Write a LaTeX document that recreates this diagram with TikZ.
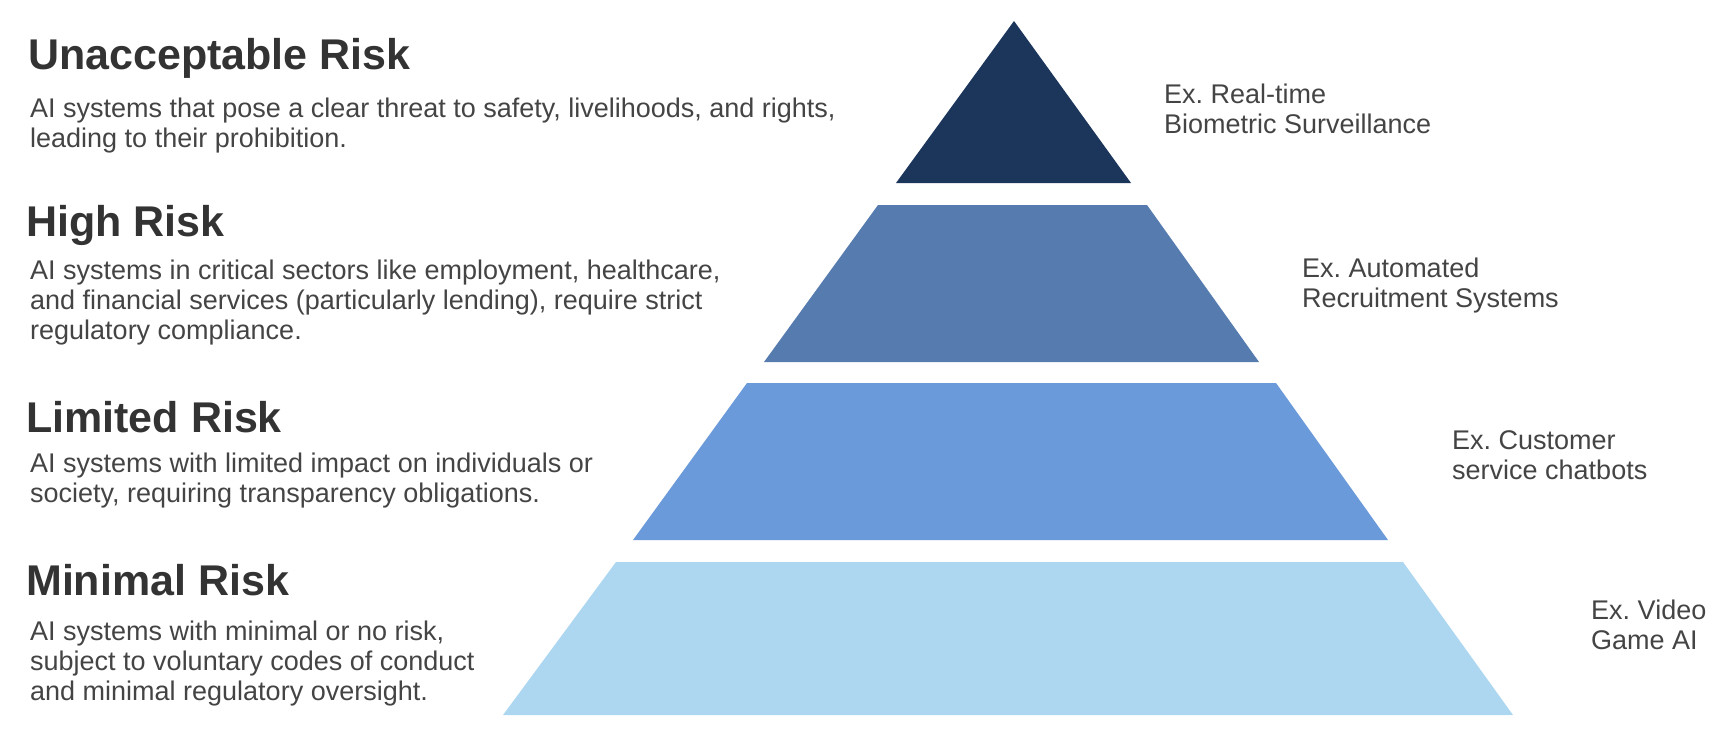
\documentclass[tikz,border=0pt]{standalone}
\usepackage{fontspec}
\setmainfont{Liberation Sans}
\frenchspacing
\definecolor{tierUnacc}{HTML}{1B355B}
\definecolor{tierHigh}{HTML}{567BAF}
\definecolor{tierLimited}{HTML}{6A9ADA}
\definecolor{tierMinimal}{HTML}{ADD6F0}
\definecolor{titlegray}{HTML}{333333}
\definecolor{textgray}{HTML}{444444}

\begin{document}
\begin{tikzpicture}[x=1pt, y=-1pt,
  risktitle/.style={anchor=base west, inner sep=0pt, text=titlegray,
    font=\fontsize{43}{48}\selectfont\bfseries},
  riskdesc/.style={anchor=north west, inner sep=0pt, align=left, text=textgray,
    font=\fontsize{27}{30}\selectfont},
  example/.style={anchor=north west, inner sep=0pt, align=left, text=textgray,
    font=\fontsize{27}{30}\selectfont}]
  \useasboundingbox (0,0) rectangle (1736,752);

  % Pyramid
  \fill[tierUnacc]   (1014,21) -- (1131,183) -- (896,183) -- cycle;
  \fill[tierHigh]    (878,205) -- (1147,205) -- (1259,362) -- (764,362) -- cycle;
  \fill[tierLimited] (747,383) -- (1276,383) -- (1388,540) -- (633,540) -- cycle;
  \fill[tierMinimal] (616,562) -- (1403,562) -- (1513,715) -- (503,715) -- cycle;

  % Unacceptable
  \node[risktitle] (unacc_title) at (28,70) {Unacceptable Risk};
  \node[riskdesc] (unacc_desc) at (30,98)
    {AI systems that pose a clear threat to safety, livelihoods, and rights,\\
     leading to their prohibition.};
  \node[example] (unacc_ex) at (1164,84) {Ex. Real-time\\Biometric Surveillance};

  % High
  \node[risktitle] (high_title) at (26,236) {High Risk};
  \node[riskdesc] (high_desc) at (30,260)
    {AI systems in critical sectors like employment, healthcare,\\
     and financial services (particularly lending), require strict\\
     regulatory compliance.};
  \node[example] (high_ex) at (1302,258) {Ex. Automated\\Recruitment Systems};

  % Limited
  \node[risktitle] (limited_title) at (26,432) {Limited Risk};
  \node[riskdesc] (limited_desc) at (30,453)
    {AI systems with limited impact on individuals or\\
     society, requiring transparency obligations.};
  \node[example] (limited_ex) at (1452,430) {Ex. Customer\\service chatbots};

  % Minimal
  \node[risktitle] (minimal_title) at (26,595) {Minimal Risk};
  \node[riskdesc] (minimal_desc) at (30,621)
    {AI systems with minimal or no risk,\\
     subject to voluntary codes of conduct\\
     and minimal regulatory oversight.};
  \node[example] (minimal_ex) at (1591,600) {Ex. Video\\Game AI};
\end{tikzpicture}
\end{document}
